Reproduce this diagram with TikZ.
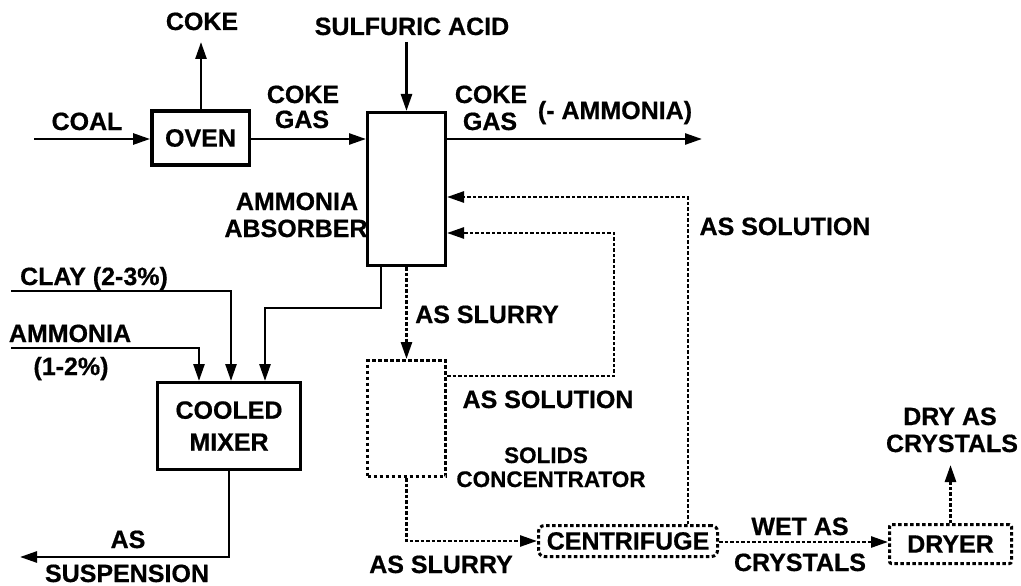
\documentclass[tikz,border=0pt]{standalone}
\usepackage{fontspec}
\setmainfont{Liberation Sans}[BoldFeatures={FakeBold=0.6}]
\usetikzlibrary{arrows.meta,calc}
\begin{document}
\begin{tikzpicture}[x=1pt,y=-1pt,
  lbl/.style={font=\fontsize{25}{27}\selectfont\bfseries, inner sep=0pt, anchor=base},
  sml/.style={font=\fontsize{22.5}{24}\selectfont\bfseries, inner sep=0pt, anchor=base},
  unit/.style={draw, line width=3.4pt, inner sep=0pt, font=\fontsize{25}{32}\selectfont\bfseries, align=center},
  dunit/.style={unit, line width=3pt, dash pattern=on 3.5pt off 2.5pt},
  flow/.style={line width=2.6pt, -{Triangle[length=17pt,width=11pt]}},
  dflow/.style={flow, dash pattern=on 3.5pt off 2pt},
]
\useasboundingbox (0,0) rectangle (1021,586);

% units
\node[unit, minimum width=97.4pt, minimum height=53.6pt] (oven) at (200.5,138) {OVEN};
\node[unit, minimum width=77.6pt, minimum height=152.6pt] (absorber) at (406.5,189) {};
\node[unit, minimum width=142.6pt, minimum height=86.6pt] (mixer) at (229,426) {COOLED\\MIXER};
\node[dunit, minimum width=78pt, minimum height=116pt] (conc) at (406.5,418.5) {};
\node[dunit, rounded corners=6pt, minimum width=179pt, minimum height=31pt] (cent) at (628,541) {CENTRIFUGE};
\node[dunit, rounded corners=2pt, minimum width=122pt, minimum height=39pt] (dryer) at (950.5,544) {DRYER};

% free ends and bends
\coordinate (coalIn) at (34,139);
\coordinate (gasRow) at (0,139);
\coordinate (cokeOut) at (201,42);
\coordinate (acidIn) at (406.5,42);
\coordinate (gasOut) at (702,139);
\coordinate (r1) at (688,197);
\coordinate (r2) at (614,233);
\coordinate (r3) at (614,376);
\coordinate (s1) at (381,308);
\coordinate (s2) at (265,308);
\coordinate (clayIn) at (11,291);
\coordinate (clayC) at (231,291);
\coordinate (ammIn) at (11,348);
\coordinate (ammC) at (199,348);
\coordinate (susp) at (20,557);
\coordinate (wet) at (0,542);
\coordinate (dryOut) at (950.5,465);

% solid flows
\draw[flow] (coalIn) -- (coalIn -| oven.west);
\draw[flow] (oven.north -| cokeOut) -- (cokeOut);
\draw[flow] (oven.east |- gasRow) -- (absorber.west |- gasRow);
\draw[flow] (acidIn) -- (absorber.north);
\draw[flow] (absorber.east |- gasRow) -- (gasOut);
\draw[flow] (s1 |- absorber.south) -- (s1) -- (s2) -- (s2 |- mixer.north);
\draw[flow] (clayIn) -- (clayC) -- (clayC |- mixer.north);
\draw[flow] (ammIn) -- (ammC) -- (ammC |- mixer.north);
\draw[flow] (mixer.south) |- (susp);

% dashed flows
\draw[dflow] (absorber.south) -- (conc.north);
\draw[dflow] (r1 |- cent.north) -- (r1) -- (r1 -| absorber.east);
\draw[dflow] (r3 -| conc.east) -- (r3) -- (r2) -- (r2 -| absorber.east);
\draw[dflow] (conc.south) |- (cent.west);
\draw[dflow] (cent.east |- wet) -- (dryer.west |- wet);
\draw[dflow] (dryer.north) -- (dryOut);

% labels
\node[lbl] (lcoke) at (202,30) {COKE};
\node[lbl] (lacid) at (412,35) {SULFURIC ACID};
\node[lbl] (lcoal) at (87,130) {COAL};
\node[lbl] (lg1a) at (303,103) {COKE};
\node[lbl] (lg1b) at (302,128) {GAS};
\node[lbl] (lg2a) at (491,103) {COKE};
\node[lbl] (lg2b) at (490,130) {GAS};
\node[lbl] (lnh3) at (615,119) {(- AMMONIA)};
\node[lbl] (labs1) at (297,210) {AMMONIA};
\node[lbl] (labs2) at (296,237) {ABSORBER};
\node[lbl] (lsol1) at (785,235) {AS SOLUTION};
\node[lbl] (lslu1) at (487,323) {AS SLURRY};
\node[lbl] (lsol2) at (548,408) {AS SOLUTION};
\node[sml] (lcon1) at (546,463) {SOLIDS};
\node[sml] (lcon2) at (551,487) {CONCENTRATOR};
\node[lbl] (lclay) at (94,285) {CLAY (2-3\%)};
\node[lbl] (lamm1) at (70,342) {AMMONIA};
\node[lbl] (lamm2) at (71,375) {(1-2\%)};
\node[lbl] (lsus1) at (128,548) {AS};
\node[lbl] (lsus2) at (127,582) {SUSPENSION};
\node[lbl] (lslu2) at (441,573) {AS SLURRY};
\node[lbl] (lwet1) at (800,535) {WET AS};
\node[lbl] (lwet2) at (800,571) {CRYSTALS};
\node[lbl] (ldry1) at (950,425) {DRY AS};
\node[lbl] (ldry2) at (952,452) {CRYSTALS};
\end{tikzpicture}
\end{document}
